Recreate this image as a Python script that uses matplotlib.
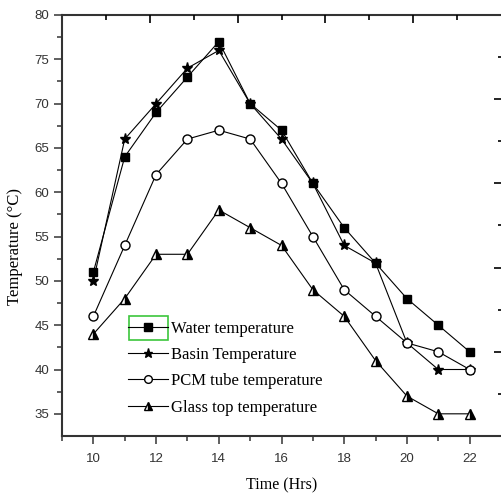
import matplotlib
matplotlib.use("Agg")
import matplotlib.pyplot as plt
from matplotlib.patches import Rectangle

hours = [10, 11, 12, 13, 14, 15, 16, 17, 18, 19, 20, 21, 22]
water = [51, 64, 69, 73, 77, 70, 67, 61, 56, 52, 48, 45, 42]
basin = [50, 66, 70, 74, 76, 70, 66, 61, 54, 52, 43, 40, 40]
pcm = [46, 54, 62, 66, 67, 66, 61, 55, 49, 46, 43, 42, 40]
glass = [44, 48, 53, 53, 58, 56, 54, 49, 46, 41, 37, 35, 35]

fig = plt.figure(figsize=(5.01, 4.99), dpi=100)
ax = fig.add_axes([0.1238, 0.1263, 0.8762, 0.8437])

lw = 0.8
ax.plot(hours, water, color="black", lw=lw, marker="s", ms=6, mfc="black", mec="black", label="Water temperature")
ax.plot(hours, basin, color="black", lw=lw, marker="*", ms=8, mfc="black", mec="black", label="Basin Temperature")
ax.plot(hours, pcm, color="black", lw=lw, marker="o", ms=6.5, mfc="white", mec="black", label="PCM tube temperature")
ax.plot(hours, glass, color="black", lw=lw, marker="^", ms=7, mfc="black", mec="black",
        fillstyle="right", markerfacecoloralt="white", label="Glass top temperature")

ax.set_xlim(9, 23)
ax.set_ylim(32.5, 80)
ax.set_xticks([10, 12, 14, 16, 18, 20, 22])
ax.set_xticks([9, 11, 13, 15, 17, 19, 21], minor=True)
ax.set_yticks([35, 40, 45, 50, 55, 60, 65, 70, 75, 80])
ax.set_yticks([37.5, 42.5, 47.5, 52.5, 57.5, 62.5, 67.5, 72.5, 77.5], minor=True)

for lab in ax.get_xticklabels() + ax.get_yticklabels():
    lab.set_fontfamily("Liberation Sans")
    lab.set_fontsize(9.5)
    lab.set_color("#333333")
ax.tick_params(which="major", direction="out", length=6, width=1.2, color="#444444", pad=6)
ax.tick_params(which="minor", direction="out", length=3.5, width=1.2, color="#444444")
ax.tick_params(axis="y", which="major", pad=3)

for s in ax.spines.values():
    s.set_linewidth(1.5)
    s.set_color("#333333")
ax.spines["right"].set_visible(False)

ax.set_xlabel("Time (Hrs)", family="Liberation Serif", fontsize=11.5, labelpad=9)
ax.set_ylabel("Temperature (°C)", family="Liberation Serif", fontsize=12, labelpad=4)
ax.yaxis.set_label_coords(-0.09, 0.45)

# decorative top / right axes (from the original layer)
top = ax.twiny()
top.set_xlim(0, 10)
top.set_xticks([2, 4, 6, 8])
top.set_xticks([1, 3, 5, 7, 9], minor=True)
top.tick_params(axis="x", which="major", direction="in", length=6, width=1.2, labeltop=False)
top.tick_params(axis="x", which="minor", direction="in", length=3.5, width=1.2)
right = ax.twinx()
right.set_ylim(0, 10)
right.set_yticks([2, 4, 6, 8])
right.set_yticks([1, 3, 5, 7, 9], minor=True)
right.tick_params(axis="y", which="major", direction="in", length=5, width=1.2, labelright=False)
right.tick_params(axis="y", which="minor", direction="in", length=2.5, width=1.2)
for a in (top, right):
    for s in a.spines.values():
        s.set_visible(False)

leg = ax.legend(loc="upper left", bbox_to_anchor=(0.135, 0.29), frameon=False,
                prop={"family": "Liberation Serif", "size": 12}, handlelength=2.4,
                handletextpad=0.2, labelspacing=0.62, borderaxespad=0, markerscale=0.85)

ax.add_patch(Rectangle((0.1526, 0.228), 0.089, 0.057, transform=ax.transAxes,
                       fill=False, edgecolor="#3cc63c", lw=1.2, zorder=5))

fig.savefig("out.png", dpi=100)
